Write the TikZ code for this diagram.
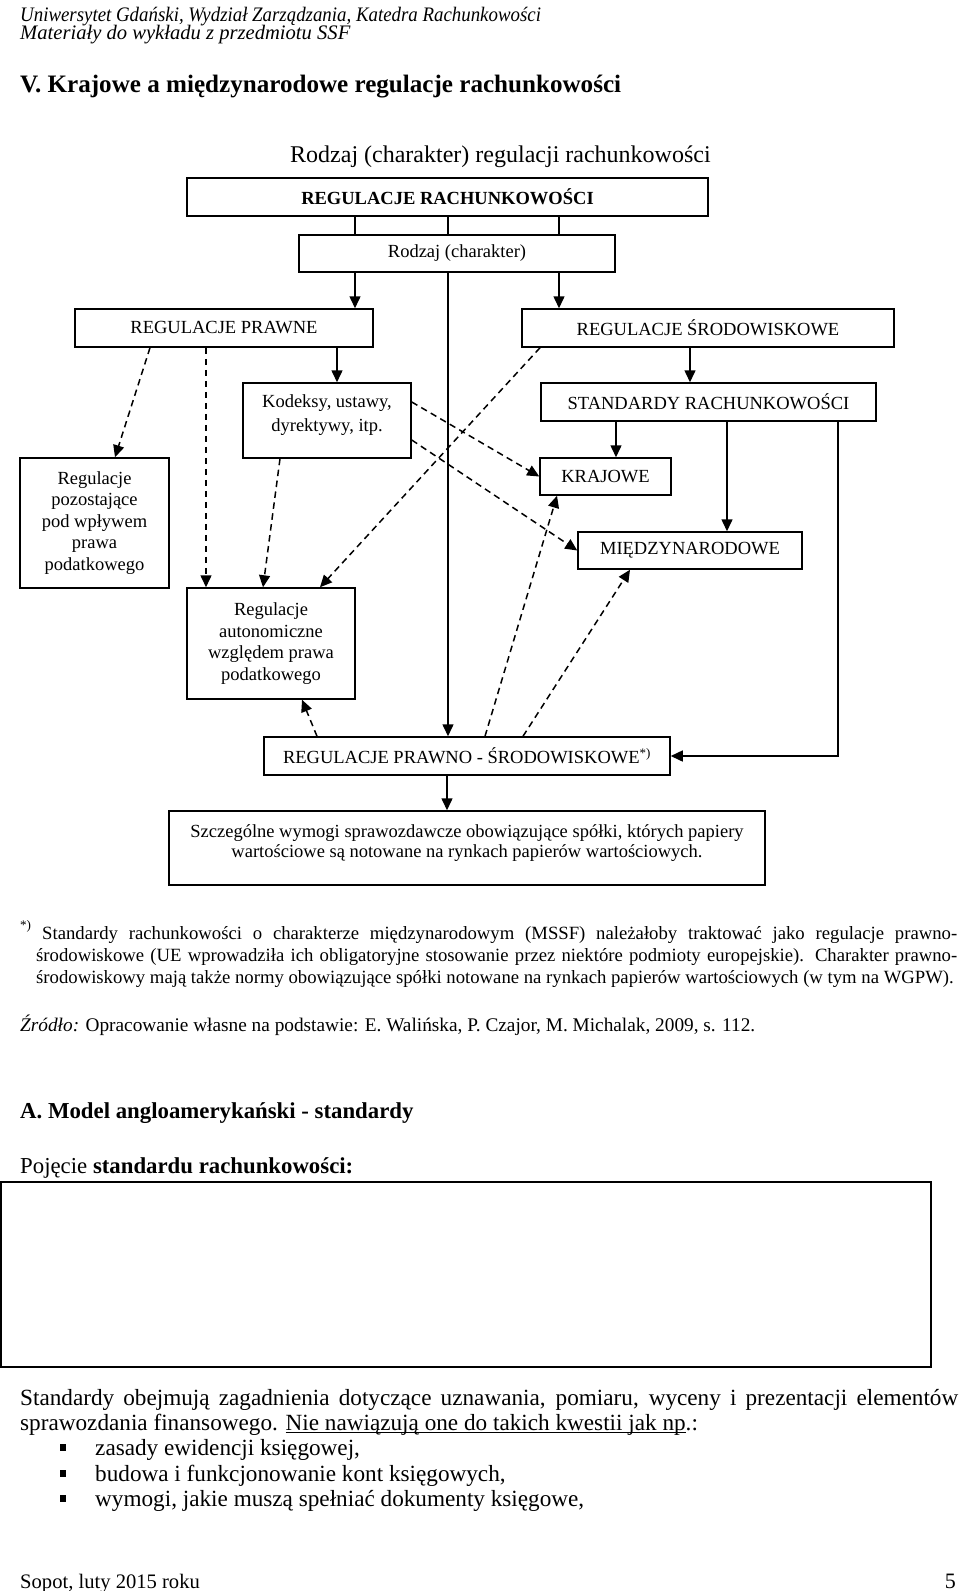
\documentclass[tikz,border=0pt]{standalone}
\usepackage{fontspec}
\setmainfont{Liberation Serif}
\usetikzlibrary{arrows.meta}
\newcommand\fsdg{\fontsize{18.5}{21.5}\selectfont}
\newcommand\fsbody{\fontsize{20.6}{25}\selectfont}
\newcommand\fspara{\fontsize{23.2}{27}\selectfont}
\newcommand\fsfoot{\fontsize{18.7}{22}\selectfont}
\newcommand\fstitle{\fontsize{25.1}{28}\selectfont}
\newcommand\fssub{\fontsize{24}{28}\selectfont}
\newcommand\fshead{\fontsize{22.8}{27}\selectfont}
\newsavebox\myulbox
\newcommand\myul[1]{\sbox\myulbox{#1}\rlap{\rule[-3pt]{\wd\myulbox}{0.9pt}}\usebox\myulbox}
\begin{document}
\begin{tikzpicture}[x=1pt,y=-1pt,
  box/.style={draw, line width=1.5pt, inner sep=0pt, align=center, font=\fsdg},
  con/.style={line width=1.5pt},
  arr/.style={line width=1.5pt, -{Triangle[length=12pt,width=11pt]}},
  dsh/.style={line width=1.5pt, dash pattern=on 6.5pt off 4.5pt, -{Triangle[length=12pt,width=11pt]}},
  txt/.style={inner sep=0pt, anchor=base west}]
\fill[white] (0,0) rectangle (960,1591);
\useasboundingbox (0,0) rectangle (960,1591);

% header
\node[txt, font=\fsbody\itshape] (h1) at (20,21) {\scalebox{0.916}[1]{Uniwersytet Gdański, Wydział Zarządzania, Katedra Rachunkowości}};
\node[txt, font=\fsbody\itshape] (h2) at (20,39) {Materiały do wykładu z przedmiotu SSF};
\node[txt, font=\fstitle\bfseries] (title) at (20,92) {V. Krajowe a międzynarodowe regulacje rachunkowości};
\node[txt, font=\fssub] (sub) at (290,162) {Rodzaj (charakter) regulacji rachunkowości};

% boxes
\node[box, minimum width=521pt, minimum height=38pt, font=\fsdg\bfseries] (RR) at (447.5,197) {REGULACJE RACHUNKOWOŚCI};
\node[box, minimum width=316pt, minimum height=37pt] (Rod) at (457,253.5) {Rodzaj (charakter)};
\node[box, minimum width=298pt, minimum height=38pt] (RP) at (224,328) {REGULACJE PRAWNE};
\node[box, minimum width=372pt, minimum height=38pt] (RS) at (708,328) {REGULACJE ŚRODOWISKOWE};
\node[box, minimum width=168pt, minimum height=75pt, text depth=15pt, font=\fontsize{18.5}{24}\selectfont] (Kod) at (327,420.5) {Kodeksy, ustawy,\\dyrektywy, itp.};
\node[box, minimum width=335pt, minimum height=38pt] (ST) at (708.5,402) {STANDARDY RACHUNKOWOŚCI};
\node[box, minimum width=149pt, minimum height=130pt] (POZ) at (94.5,523) {Regulacje\\pozostające\\pod wpływem\\prawa\\podatkowego};
\node[box, minimum width=131pt, minimum height=37pt] (KR) at (605.5,476.5) {KRAJOWE};
\node[box, minimum width=224pt, minimum height=37pt] (MI) at (690,550.5) {MIĘDZYNARODOWE};
\node[box, minimum width=168pt, minimum height=111pt] (AUT) at (271,643.5) {Regulacje\\autonomiczne\\względem prawa\\podatkowego};
\node[box, minimum width=406pt, minimum height=38pt] (PRW) at (467,756) {REGULACJE PRAWNO - ŚRODOWISKOWE\textsuperscript{*)}};
\node[box, minimum width=596pt, minimum height=74pt, text depth=14pt, font=\fontsize{18.5}{20}\selectfont] (SZ) at (467,848) {Szczególne wymogi sprawozdawcze obowiązujące spółki, których papiery\\wartościowe są notowane na rynkach papierów wartościowych.};

% connectors
\draw[con] ([xshift=-92.5pt]RR.south) -- ([xshift=-102pt]Rod.north);
\draw[con] ([xshift=0.5pt]RR.south) -- ([xshift=-9pt]Rod.north);
\draw[con] ([xshift=111.5pt]RR.south) -- ([xshift=102pt]Rod.north);
\draw[arr] ([xshift=-102pt]Rod.south) -- ([xshift=131pt]RP.north);
\draw[arr] ([xshift=102pt]Rod.south) -- ([xshift=-149pt]RS.north);
\draw[arr] ([xshift=-9pt]Rod.south) -- ([xshift=-19pt]PRW.north);

\draw[dsh] ([xshift=-74pt]RP.south) -- ([xshift=20.5pt]POZ.north);
\draw[dsh] ([xshift=-18pt]RP.south) -- ([xshift=-65pt]AUT.north);
\draw[arr] ([xshift=113pt]RP.south) -- ([xshift=10pt]Kod.north);
\draw[dsh] ([xshift=-47pt]Kod.south) -- ([xshift=-8pt]AUT.north);
\draw[dsh] ([yshift=18.5pt]Kod.east) -- (KR.west);
\draw[dsh] ([yshift=-19.5pt]Kod.east) -- (MI.west);
\draw[dsh] ([xshift=-168pt]RS.south) -- ([xshift=49pt]AUT.north);
\draw[arr] ([xshift=-18pt]RS.south) -- ([xshift=-18.5pt]ST.north);
\draw[arr] ([xshift=-92.5pt]ST.south) -- ([xshift=10.5pt]KR.north);
\draw[arr] ([xshift=18.5pt]ST.south) -- ([xshift=37pt]MI.north);
\draw[arr] ([xshift=129.5pt]ST.south) |- (PRW.east);
\draw[dsh] ([xshift=-150pt]PRW.north) -- ([xshift=31pt]AUT.south);
\draw[dsh] ([xshift=18pt]PRW.north) -- ([xshift=-48.5pt]KR.south);
\draw[dsh] ([xshift=56pt]PRW.north) -- ([xshift=-60pt]MI.south);
\draw[arr] ([xshift=-20pt]PRW.south) -- ([xshift=-20pt]SZ.north);

% footnote
\node[txt, font=\fsfoot] (fstar) at (20,936) {\textsuperscript{*)}};
\node[txt, font=\fsfoot] (f1) at (42,939) {\makebox[915pt][s]{Standardy rachunkowości o charakterze międzynarodowym (MSSF) należałoby traktować jako regulacje prawno-}};
\node[txt, font=\fsfoot] (f2) at (36,961) {\makebox[921pt][s]{środowiskowe (UE wprowadziła ich obligatoryjne stosowanie przez niektóre podmioty europejskie). Charakter prawno-}};
\node[txt, font=\fsfoot] (f3) at (36,983) {środowiskowy mają także normy obowiązujące spółki notowane na rynkach papierów wartościowych (w tym na WGPW).};
\node[txt, font=\fontsize{19.3}{23}\selectfont] (src) at (20,1031) {\textit{Źródło:} Opracowanie własne na podstawie: E. Walińska, P. Czajor, M. Michalak, 2009, s. 112.};

% section A
\node[txt, font=\fshead\bfseries] (secA) at (20,1118) {A. Model angloamerykański - standardy};
\node[txt, font=\fshead] (poj) at (20,1173) {Pojęcie \textbf{standardu rachunkowości:}};
\node[draw, line width=1.5pt, minimum width=930pt, minimum height=185pt, inner sep=0pt] (big) at (466,1274.5) {};

\node[txt, font=\fspara] (p1) at (20,1405) {\makebox[938pt][s]{Standardy obejmują zagadnienia dotyczące uznawania, pomiaru, wyceny i prezentacji elementów}};
\node[txt, font=\fspara] (p2) at (20,1430) {sprawozdania finansowego. \myul{Nie nawiązują one do takich kwestii jak np}.:};
\node[txt, font=\fspara] (b1) at (95,1455) {zasady ewidencji księgowej,};
\node[txt, font=\fspara] (b2) at (95,1481) {budowa i funkcjonowanie kont księgowych,};
\node[txt, font=\fspara] (b3) at (95,1506) {wymogi, jakie muszą spełniać dokumenty księgowe,};
\fill (60,1444) rectangle (66,1451);
\fill (60,1470) rectangle (66,1477);
\fill (60,1495) rectangle (66,1502);

\node[txt, font=\fsbody] (foot) at (20,1588) {Sopot, luty 2015 roku};
\node[inner sep=0pt, anchor=base east, font=\fontsize{22}{26}\selectfont] (pg) at (956,1588) {5};
\end{tikzpicture}
\end{document}
